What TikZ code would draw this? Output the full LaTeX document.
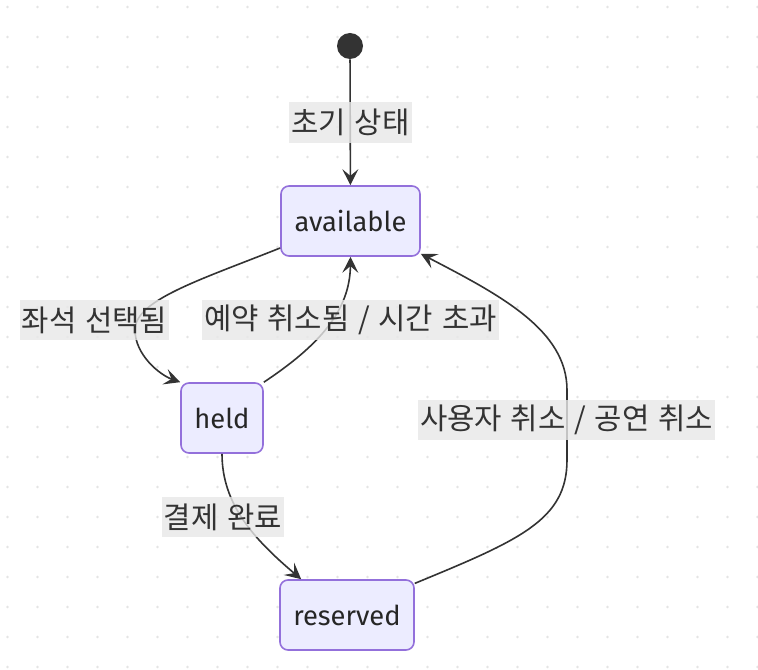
\documentclass[tikz,border=0pt]{standalone}
\usepackage{fontspec}
\setmainfont{Fira Sans}
\newfontfamily\krfont[WordSpace=1.3]{Noto Sans CJK KR}
\usetikzlibrary{arrows.meta}

\definecolor{stateFill}{HTML}{ECECFF}
\definecolor{stateLine}{HTML}{9370DB}
\definecolor{edgeLine}{HTML}{333333}
\definecolor{labelFill}{HTML}{E8E8E8}
\definecolor{gridDot}{HTML}{E4E4E4}

\begin{document}
\begin{tikzpicture}[x=0.75pt,y=0.75pt,yscale=-1,xscale=1,
  statebox/.style={draw=stateLine, fill=stateFill, line width=1.2pt, rounded corners=6pt, minimum height=52.5pt, inner sep=0pt, text=black!85, font=\fontsize{20.5}{24}\selectfont},
  startdot/.style={circle, fill=edgeLine, minimum size=19.5pt, inner sep=0pt},
  trans/.style={draw=edgeLine, line width=1.2pt, -{Stealth[length=12pt,width=12pt,inset=5pt]}},
  edgelabel/.style={fill=labelFill, fill opacity=0.8, text opacity=1, text=edgeLine, inner xsep=1.5pt, inner ysep=0pt, minimum height=30.5pt, font=\krfont\fontsize{22.3}{26}\selectfont}]
\useasboundingbox (0,0) rectangle (758,670);
\fill[white] (0,0) rectangle (758,670);
%dot grid
\foreach \i in {0,...,25}
  \foreach \j in {0,...,22}
    \fill[gridDot] (7.5+30*\i,7+30*\j) circle (1.1pt);

%Shape: Start
\node[startdot] (start) at (350,46) {};
%Shape: States
\node[statebox, minimum width=104.25pt] (avail) at (350.5,221) {available};
\node[statebox, minimum width=61.5pt] (held) at (222,418) {held};
\node[statebox, minimum width=100.5pt] (reserved) at (347,615) {reserved};

%Curves
\draw[trans] (start) -- (avail);
\draw[trans] (avail.201) .. controls (200,280) and (135,300) .. (135,330) .. controls (135,355) and (160,375) .. (held.north west);
\draw[trans] (held.north east) .. controls (320,345) and (350,310) .. (avail.south);
\draw[trans] (held.south) .. controls (222,505) and (255,540) .. (reserved.142);
\draw[trans] (reserved.25) .. controls (520,540) and (567,520) .. (567,460) -- (567,390) .. controls (567,330) and (500,295) .. (avail.335);

% Text Node
\node[edgelabel] (lblInit) at (350.5,122.5) {초기 상태};
% Text Node
\node[edgelabel] (lblSelect) at (94.5,320) {좌석 선택됨};
% Text Node
\node[edgelabel] (lblCancel) at (350.5,320) {예약 취소됨 / 시간 초과};
% Text Node
\node[edgelabel] (lblPay) at (223,517) {결제 완료};
% Text Node
\node[edgelabel] (lblRefund) at (566.5,420) {사용자 취소 / 공연 취소};

\end{tikzpicture}
\end{document}
